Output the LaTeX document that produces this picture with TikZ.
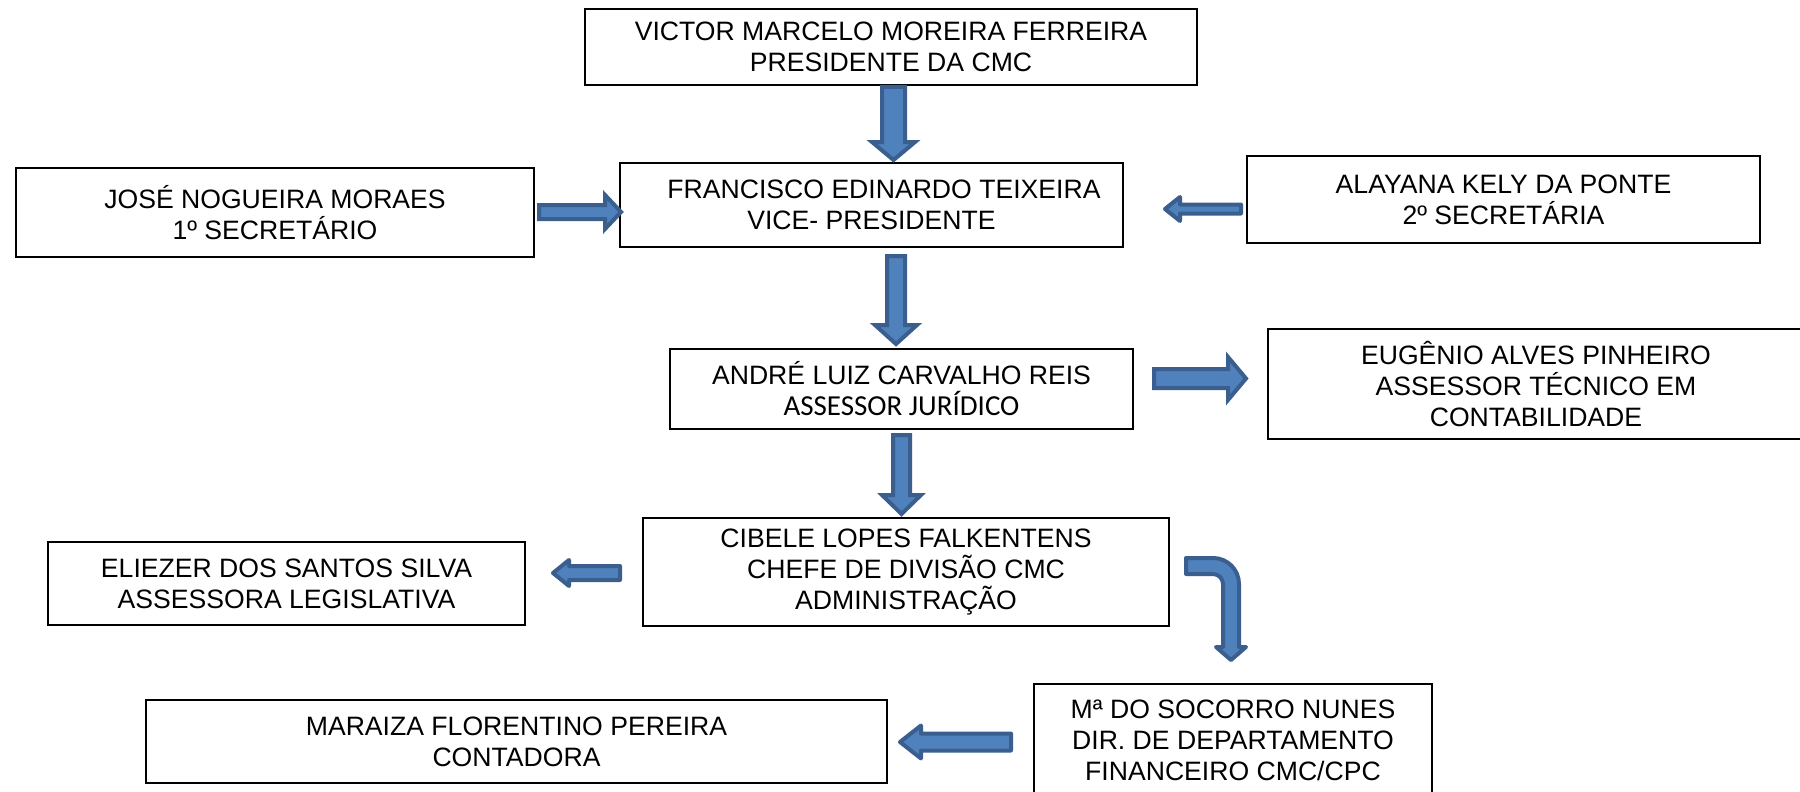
\documentclass[tikz,border=0pt]{standalone}
\usepackage{fontspec}
\setmainfont{Liberation Sans}
\newfontfamily\calibrifont{Carlito}
\definecolor{afill}{HTML}{4F81BD}
\definecolor{aline}{HTML}{3A5F8E}
\tikzset{
  box/.style={draw=black, line width=1.6pt, fill=white, inner sep=0pt, align=center,
    font=\fontsize{26.6}{31}\selectfont},
  blockarrow/.style={fill=afill, draw=aline, line width=4pt, line join=miter},
  roundarrow/.style={fill=afill, draw=aline, line width=4pt, line join=round}
}
\newcommand\blkv[7]{% style, cx, top, base, tip, shaft half, head half
  \draw[#1] ({#2-#6},#3) -- ({#2+#6},#3) -- ({#2+#6},#4) -- ({#2+#7},#4) -- (#2,#5)
    -- ({#2-#7},#4) -- ({#2-#6},#4) -- cycle;}
\newcommand\blkh[7]{% style, cy, start, base, tip, shaft half, head half
  \draw[#1] (#3,{#2-#6}) -- (#4,{#2-#6}) -- (#4,{#2-#7}) -- (#5,#2) -- (#4,{#2+#7})
    -- (#4,{#2+#6}) -- (#3,{#2+#6}) -- cycle;}
\begin{document}
\begin{tikzpicture}[x=1pt,y=-1pt]
\useasboundingbox (0,0) rectangle (1800,792);
\clip (0,0) rectangle (1800,792);
\fill[white] (0,0) rectangle (1800,792);

% boxes
\node[box, minimum width=612pt, minimum height=76pt] (victor) at (891,47)
  {VICTOR MARCELO MOREIRA FERREIRA\\PRESIDENTE DA CMC};
\node[box, minimum width=503pt, minimum height=84pt] (francisco) at (871.5,205)
  {\hspace*{25pt}FRANCISCO EDINARDO TEIXEIRA\\VICE- PRESIDENTE};
\node[box, minimum width=518pt, minimum height=89pt] (jose) at (275,212.5)
  {JOSÉ NOGUEIRA MORAES\\1º SECRETÁRIO};
\node[box, minimum width=513pt, minimum height=87pt] (alayana) at (1503.5,199.5)
  {ALAYANA KELY DA PONTE\\2º SECRETÁRIA};
\node[box, minimum width=463pt, minimum height=80pt] (andre) at (901.5,389)
  {ANDRÉ LUIZ CARVALHO REIS\\{\calibrifont\fontsize{29}{32}\selectfont ASSESSOR JURÍDICO}};
\node[box, minimum width=536pt, minimum height=110pt] (eugenio) at (1536,384)
  {EUGÊNIO ALVES PINHEIRO\\ASSESSOR TÉCNICO EM\\CONTABILIDADE};
\node[box, minimum width=526pt, minimum height=108pt] (cibele) at (906,572)
  {CIBELE LOPES FALKENTENS\\CHEFE DE DIVISÃO CMC\\ADMINISTRAÇÃO};
\node[box, minimum width=477pt, minimum height=83pt] (eliezer) at (286.5,583.5)
  {ELIEZER DOS SANTOS SILVA\\ASSESSORA LEGISLATIVA};
\node[box, minimum width=398pt, minimum height=112pt] (socorro) at (1233,740)
  {Mª DO SOCORRO NUNES\\DIR. DE DEPARTAMENTO\\FINANCEIRO CMC/CPC};
\node[box, minimum width=741pt, minimum height=83pt] (maraiza) at (516.5,741.5)
  {MARAIZA FLORENTINO PEREIRA\\CONTADORA};

% block arrows
\blkv{blockarrow}{893.5}{87}{142}{160}{11.5}{21.5}   % victor -> francisco
\blkv{blockarrow}{896}{256}{325}{344}{9}{21}         % francisco -> andre
\blkv{blockarrow}{901.5}{435}{495}{514}{8.5}{19.5}   % andre -> cibele
\blkh{blockarrow}{212}{539}{605}{621}{7}{17}         % jose -> francisco
\blkh{roundarrow}{209}{1241}{1180}{1165}{4.5}{12}    % alayana -> francisco
\blkh{blockarrow}{378.5}{1154}{1228}{1246}{9.5}{21.5} % andre -> eugenio
\blkh{roundarrow}{573}{620}{569}{553}{7}{13}         % cibele -> eliezer
\blkh{roundarrow}{742}{1011}{921}{900}{8.5}{16.5}    % socorro -> maraiza

% bent arrow cibele -> socorro
\draw[roundarrow] (1186,558) -- (1213,558)
  .. controls (1227.4,558) and (1239,569.6) .. (1239,584)
  -- (1239,647) -- (1246,647) -- (1231,660) -- (1216,647) -- (1223,647)
  -- (1223,584) .. controls (1223,578.5) and (1218.5,574) .. (1213,574)
  -- (1186,574) -- cycle;
\end{tikzpicture}
\end{document}
